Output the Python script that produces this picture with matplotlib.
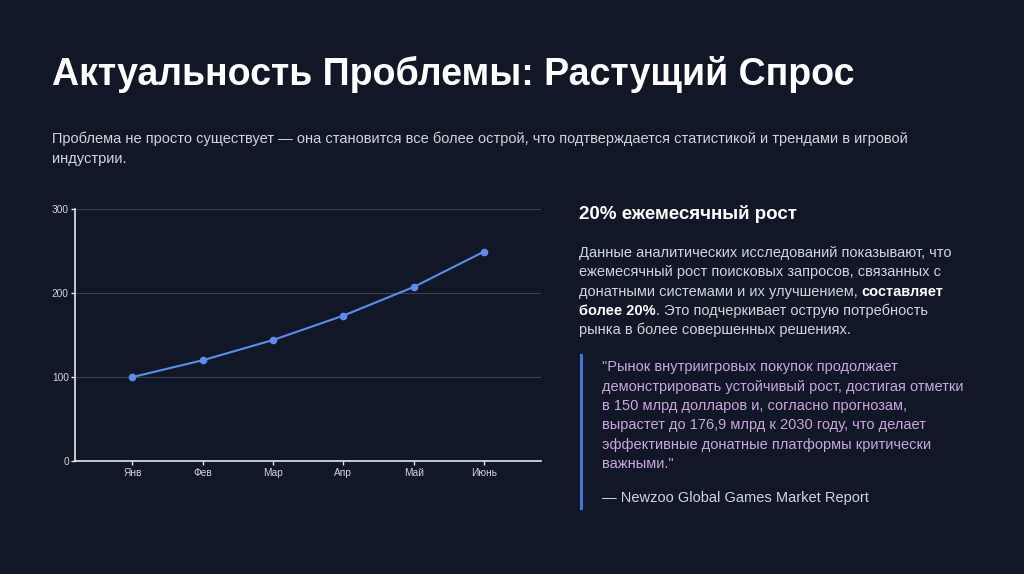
import matplotlib
matplotlib.use("Agg")
import matplotlib.pyplot as plt

plt.rcParams["font.family"] = ["Liberation Sans", "DejaVu Sans"]

BG = "#111726"
TEXT = "#d1d5db"
LINE = "#5b8def"
QUOTE = "#c9a6e0"

months = ["Янв", "Фев", "Мар", "Апр", "Май", "Июнь"]
demand = [100, 120, 144, 173, 207, 249]
y_ticks = [0, 100, 200, 300]

title = "Актуальность Проблемы: Растущий Спрос"
subtitle = ["Проблема не просто существует — она становится все более острой, что подтверждается статистикой и трендами в игровой",
            "индустрии."]
stat_head = "20% ежемесячный рост"
# each line is a list of (text, bold) runs
stat_body = [
    [("Данные аналитических исследований показывают, что", False)],
    [("ежемесячный рост поисковых запросов, связанных с", False)],
    [("донатными системами и их улучшением, ", False), ("составляет", True)],
    [("более 20%", True), (". Это подчеркивает острую потребность", False)],
    [("рынка в более совершенных решениях.", False)],
]
quote = ['"Рынок внутриигровых покупок продолжает',
         "демонстрировать устойчивый рост, достигая отметки",
         "в 150 млрд долларов и, согласно прогнозам,",
         "вырастет до 176,9 млрд к 2030 году, что делает",
         "эффективные донатные платформы критически",
         'важными."']
source = "— Newzoo Global Games Market Report"

fig = plt.figure(figsize=(10.24, 5.74), dpi=100, facecolor=BG)
W, H = 1024, 574


def fx(px):
    return px / W


def fy(py):
    return 1 - py / H


fig.text(fx(52), fy(74), title, color="white", fontsize=27, weight="bold",
         va="center", ha="left")
for i, line in enumerate(subtitle):
    fig.text(fx(52), fy(139 + i * 20), line, color=TEXT, fontsize=10.5,
             va="center", ha="left")

# chart
ax = fig.add_axes([fx(75), fy(461.3), fx(541 - 75), (461.3 - 208.7) / H])
ax.set_facecolor(BG)
x = list(range(len(months)))
ax.plot(x, demand, color=LINE, lw=1.5, marker="o", ms=4.5, zorder=3)
ax.set_xlim(-0.815, 5.81)
ax.set_ylim(0, 300)
ax.set_yticks(y_ticks)
ax.set_xticks(x)
ax.set_xticklabels(months)
ax.yaxis.grid(True, color="#3a404c", lw=0.8)
ax.set_axisbelow(True)
for s in ("top", "right"):
    ax.spines[s].set_visible(False)
for s in ("left", "bottom"):
    ax.spines[s].set_color("#e5e7eb")
    ax.spines[s].set_linewidth(1.2)
ax.tick_params(colors="#e5e7eb", labelcolor="#cfd3da", labelsize=7.3,
               length=3, width=1, pad=1.5)

# right panel
fig.text(fx(579), fy(214), stat_head, color="white", fontsize=13.5,
         weight="bold", va="center", ha="left")

renderer = fig.canvas.get_renderer()
for i, runs in enumerate(stat_body):
    xpos = 579
    for txt, bold in runs:
        t = fig.text(fx(xpos), fy(253 + i * 19.3), txt,
                     color="white" if bold else TEXT, fontsize=10.5,
                     weight="bold" if bold else "normal",
                     va="center", ha="left")
        xpos += t.get_window_extent(renderer).width

fig.add_artist(plt.Line2D([fx(581), fx(581)], [fy(355), fy(508)],
                          color="#4a72d4", lw=2.2))
for i, line in enumerate(quote):
    fig.text(fx(602), fy(367 + i * 19.5), line, color=QUOTE, fontsize=10.5,
             va="center", ha="left")
fig.text(fx(602), fy(498), source, color=TEXT, fontsize=10.5,
         va="center", ha="left")

fig.savefig("out.png", dpi=100, facecolor=BG)
